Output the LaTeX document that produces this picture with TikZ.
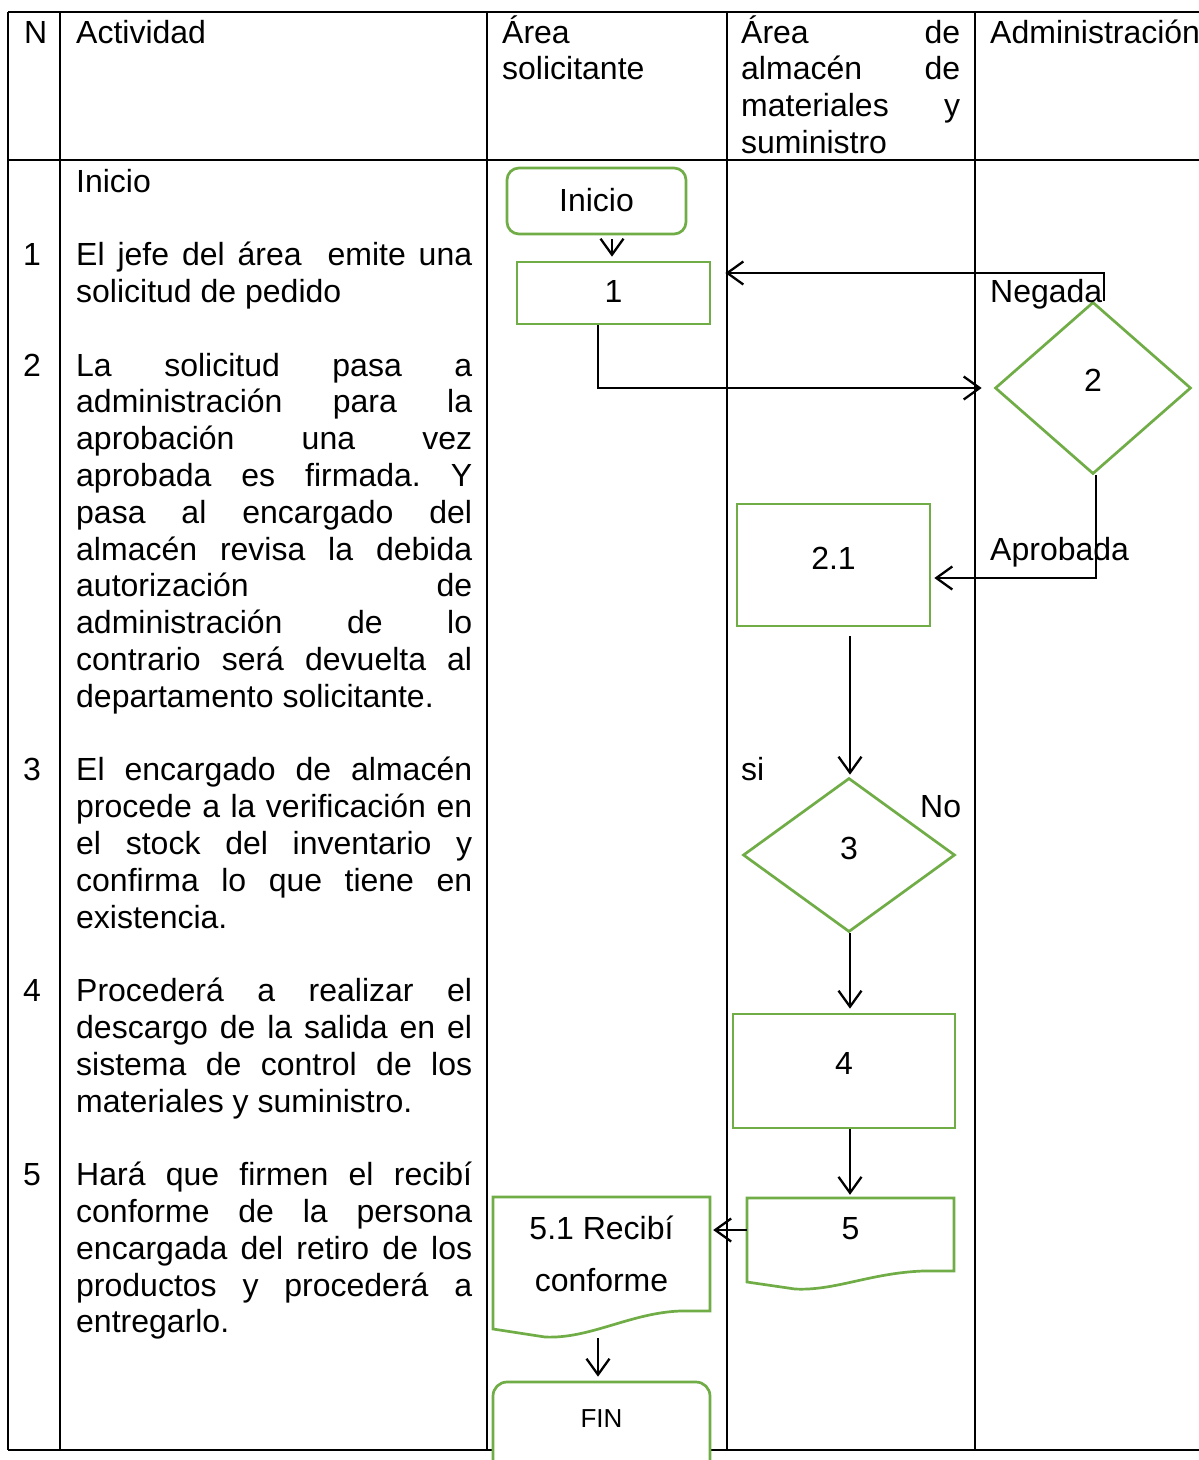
\documentclass[tikz,border=0pt]{standalone}
\usepackage{fontspec}
\setmainfont{Liberation Sans}
\usetikzlibrary{arrows.meta,shapes.geometric,calc}
\definecolor{fgreen}{HTML}{70AD47}
\tolerance=10000
\hbadness=10000
\frenchspacing
\begin{document}
\begin{tikzpicture}[x=1pt,y=-1pt,
  grid/.style={line width=2.3pt,black},
  gbox/.style={draw=fgreen,line width=2.7pt,fill=white,inner sep=0pt,font=\fontsize{32}{38}\selectfont},
  gline/.style={draw=fgreen,line width=2.7pt,fill=white},
  txt/.style={anchor=base west,inner sep=0pt,font=\fontsize{32}{36.8}\selectfont},
  body/.style={txt,text width=396pt,align=justify},
  lbl/.style={anchor=base west,inner sep=0pt,font=\fontsize{32}{38}\selectfont},
  arr/.style={line width=2.3pt,-{Straight Barb[length=16pt,width=23pt,line width=2.3pt]}}
]
\useasboundingbox (0,0) rectangle (1199,1460);
\fill[white] (0,0) rectangle (1199,1460);

% table
\draw[grid] (8,12) -- (1199,12);
\draw[grid] (8,160) -- (1199,160);
\draw[grid] (8,1450) -- (1199,1450);
\foreach \xx in {8,60,487,727,975} {\draw[grid] (\xx,12) -- (\xx,1450);}

% header
\node[txt] (hN) at (24,43) {N};
\node[txt] (hA) at (76,43) {Actividad};
\node[txt,text width=212pt,align=left] (hS) at (502,43) {Área\\solicitante};
\node[txt,text width=219pt,align=justify] (hM) at (741,43) {Área de\linebreak almacén de\linebreak materiales y\linebreak suministro};
\node[txt] (hAd) at (990,43) {Administración};

% numbers
\node[txt] (n1) at (23,265.6) {1};
\node[txt] (n2) at (23,376) {2};
\node[txt] (n3) at (23,780.8) {3};
\node[txt] (n4) at (23,1001.6) {4};
\node[txt] (n5) at (23,1185.6) {5};

% activities
\node[body] (p0) at (76,192) {Inicio};
\node[body] (p1) at (76,265.6) {El jefe del área~ emite una\linebreak solicitud de pedido};
\node[body] (p2) at (76,376) {La solicitud pasa a\linebreak administración para la\linebreak aprobación una vez\linebreak aprobada es firmada. Y\linebreak pasa al encargado del\linebreak almacén revisa la debida\linebreak autorización de\linebreak administración de lo\linebreak contrario será devuelta al\linebreak departamento solicitante.};
\node[body] (p3) at (76,780.8) {El encargado de almacén\linebreak procede a la verificación en\linebreak el stock del inventario y\linebreak confirma lo que tiene en\linebreak existencia.};
\node[body] (p4) at (76,1001.6) {Procederá a realizar el\linebreak descargo de la salida en el\linebreak sistema de control de los\linebreak materiales y suministro.};
\node[body] (p5) at (76,1185.6) {Hará que firmen el recibí\linebreak conforme de la persona\linebreak encargada del retiro de los\linebreak productos y procederá a\linebreak entregarlo.};

% flowchart shapes
\node[gbox,rounded corners=12pt,minimum width=179pt,minimum height=66pt] (ini) at (596.5,201) {\raisebox{2pt}{Inicio}};
\node[gbox,minimum width=193pt,minimum height=62pt] (b1) at (613.5,293) {\raisebox{4pt}{1}};
\node[gbox,diamond,minimum width=196pt,minimum height=172pt] (d2) at (1093,388) {\raisebox{16pt}{2}};
\node[gbox,minimum width=193pt,minimum height=122pt] (b21) at (833.5,565) {\raisebox{13pt}{2.1}};
\node[gbox,diamond,minimum width=212pt,minimum height=154pt] (d3) at (849,855) {\raisebox{13pt}{3}};
\node[gbox,minimum width=222pt,minimum height=114pt] (b4) at (844,1071) {\raisebox{16pt}{4}};

% document 5
\path[gline] (747,1198) -- (954,1198) -- (954,1271) -- (923,1271)
  .. controls (870,1273) and (835,1291) .. (795,1289) -- (747,1282) -- cycle;
\node[inner sep=0pt,minimum width=207pt,minimum height=84pt,font=\fontsize{32}{38}\selectfont] (d5) at (850.5,1240) {\raisebox{24pt}{5}};

% document 5.1
\path[gline] (493,1197) -- (710,1197) -- (710,1311) -- (680,1311)
  .. controls (630,1313) and (590,1339) .. (545,1337) -- (493,1329) -- cycle;
\node[inner sep=0pt,minimum width=217pt,minimum height=132pt] (d51) at (601.5,1263) {};
\node[lbl,anchor=base] (t51a) at (601.5,1239) {5.1 Recibí};
\node[lbl,anchor=base] (t51b) at (601.5,1291) {conforme};

% FIN
\node[gbox,rounded corners=14pt,minimum width=217pt,minimum height=93pt,font=\fontsize{26}{30}\selectfont] (fin) at (601.5,1428.5) {\raisebox{20pt}{FIN}};

% labels
\node[lbl] (lneg) at (990,302) {Negada};
\node[lbl] (lapr) at (990,560) {Aprobada};
\node[lbl] (lsi) at (741,780) {si};
\node[lbl] (lno) at (920,817) {No};

% connectors
\draw[arr] ($(ini.south)+(15.5,4)$) -- ($(b1.north)+(-1.5,-4)$);
\draw[arr] ($(b1.south)+(-15.5,0)$) |- ($(d2.west)+(-12,0)$);
\draw[arr] ($(d2.north)+(11,0)$) |- ($(b1.east)+(14,-20)$);
\draw[arr] ($(d2.south)+(3,0)$) |- ($(b21.east)+(3,13)$);
\draw[arr] ($(b21.south)+(16.5,9)$) -- ($(d3.north)+(1,-2)$);
\draw[arr] ($(d3.south)+(1,0)$) -- ($(b4.north)+(6,-4)$);
\draw[arr] ($(b4.south)+(6,0)$) -- ($(d5.north)+(-0.5,-3)$);
\draw[arr] ($(d5.west)+(0,-10)$) -- ($(d51.east)+(3,-33)$);
\draw[arr] ($(d51.south)+(-3.5,9)$) -- ($(fin.north)+(-3.5,-4)$);
\end{tikzpicture}
\end{document}
